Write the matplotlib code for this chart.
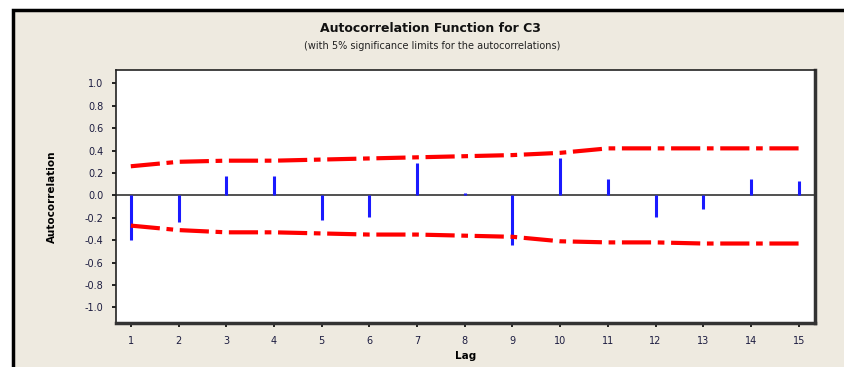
import numpy as np
import matplotlib.pyplot as plt
from matplotlib.patches import Rectangle

# data
lags = np.arange(1, 16)
acf = [-0.40, -0.24, 0.17, 0.17, -0.22, -0.19, 0.29, 0.02, -0.44, 0.33,
       0.15, -0.19, -0.12, 0.15, 0.13]
upper = [0.26, 0.30, 0.31, 0.31, 0.32, 0.33, 0.34, 0.35, 0.36, 0.38,
         0.42, 0.42, 0.42, 0.42, 0.42]
lower = [-0.27, -0.31, -0.33, -0.33, -0.34, -0.35, -0.35, -0.36, -0.37, -0.41,
         -0.42, -0.42, -0.43, -0.43, -0.43]
yticks = [1.0, 0.8, 0.6, 0.4, 0.2, 0.0, -0.2, -0.4, -0.6, -0.8, -1.0]

bg = '#eeeae0'
fig = plt.figure(figsize=(8.45, 3.67), dpi=100)
fig.patch.set_facecolor('white')

# outer beige panel with black border (runs off right/bottom)
W, H = 845, 367
fig.patches.append(Rectangle((13 / W, -0.1), 1.2, (H - 10) / H + 0.1,
                             transform=fig.transFigure, facecolor=bg,
                             edgecolor='black', lw=2.5, zorder=-5))

ax = fig.add_axes([116 / W, 44 / H, 699 / W, 253 / H])
ax.set_facecolor('white')

ax.vlines(lags, 0, acf, colors='#1a1aff', lw=2.2, zorder=3)
ax.axhline(0, color='#333333', lw=1.2, zorder=2)
ax.plot(lags, upper, color='#ff0000', lw=3, ls=(0, (7, 1.6, 1.6, 1.6)), zorder=4)
ax.plot(lags, lower, color='#ff0000', lw=3, ls=(0, (7, 1.6, 1.6, 1.6)), zorder=4)

ax.set_xlim(0.69, 15.34)
ax.set_ylim(-1.14, 1.12)
ax.set_xticks(lags)
ax.set_yticks(yticks)
ax.set_yticklabels(['%.1f' % v for v in yticks])
ax.tick_params(direction='out', length=3, width=1.2, color='black',
               labelsize=7, labelcolor='#1c1c40', pad=6)

for s in ['left', 'top']:
    ax.spines[s].set_color('#222222')
    ax.spines[s].set_linewidth(1.2)
for s in ['right', 'bottom']:
    ax.spines[s].set_color('#333333')
    ax.spines[s].set_linewidth(2.5)

ax.set_xlabel('Lag', fontsize=7.5, fontweight='bold', labelpad=4)
ax.set_ylabel('Autocorrelation', fontsize=7.5, fontweight='bold', labelpad=20)

fig.text(430 / W, 1 - 29 / H, 'Autocorrelation Function for C3', ha='center',
         va='center', fontsize=9, fontweight='bold', color='#111111')
fig.text(432 / W, 1 - 46 / H, '(with 5% significance limits for the autocorrelations)',
         ha='center', va='center', fontsize=7, color='#222222')

fig.savefig('out.png', dpi=100, facecolor=fig.get_facecolor())
